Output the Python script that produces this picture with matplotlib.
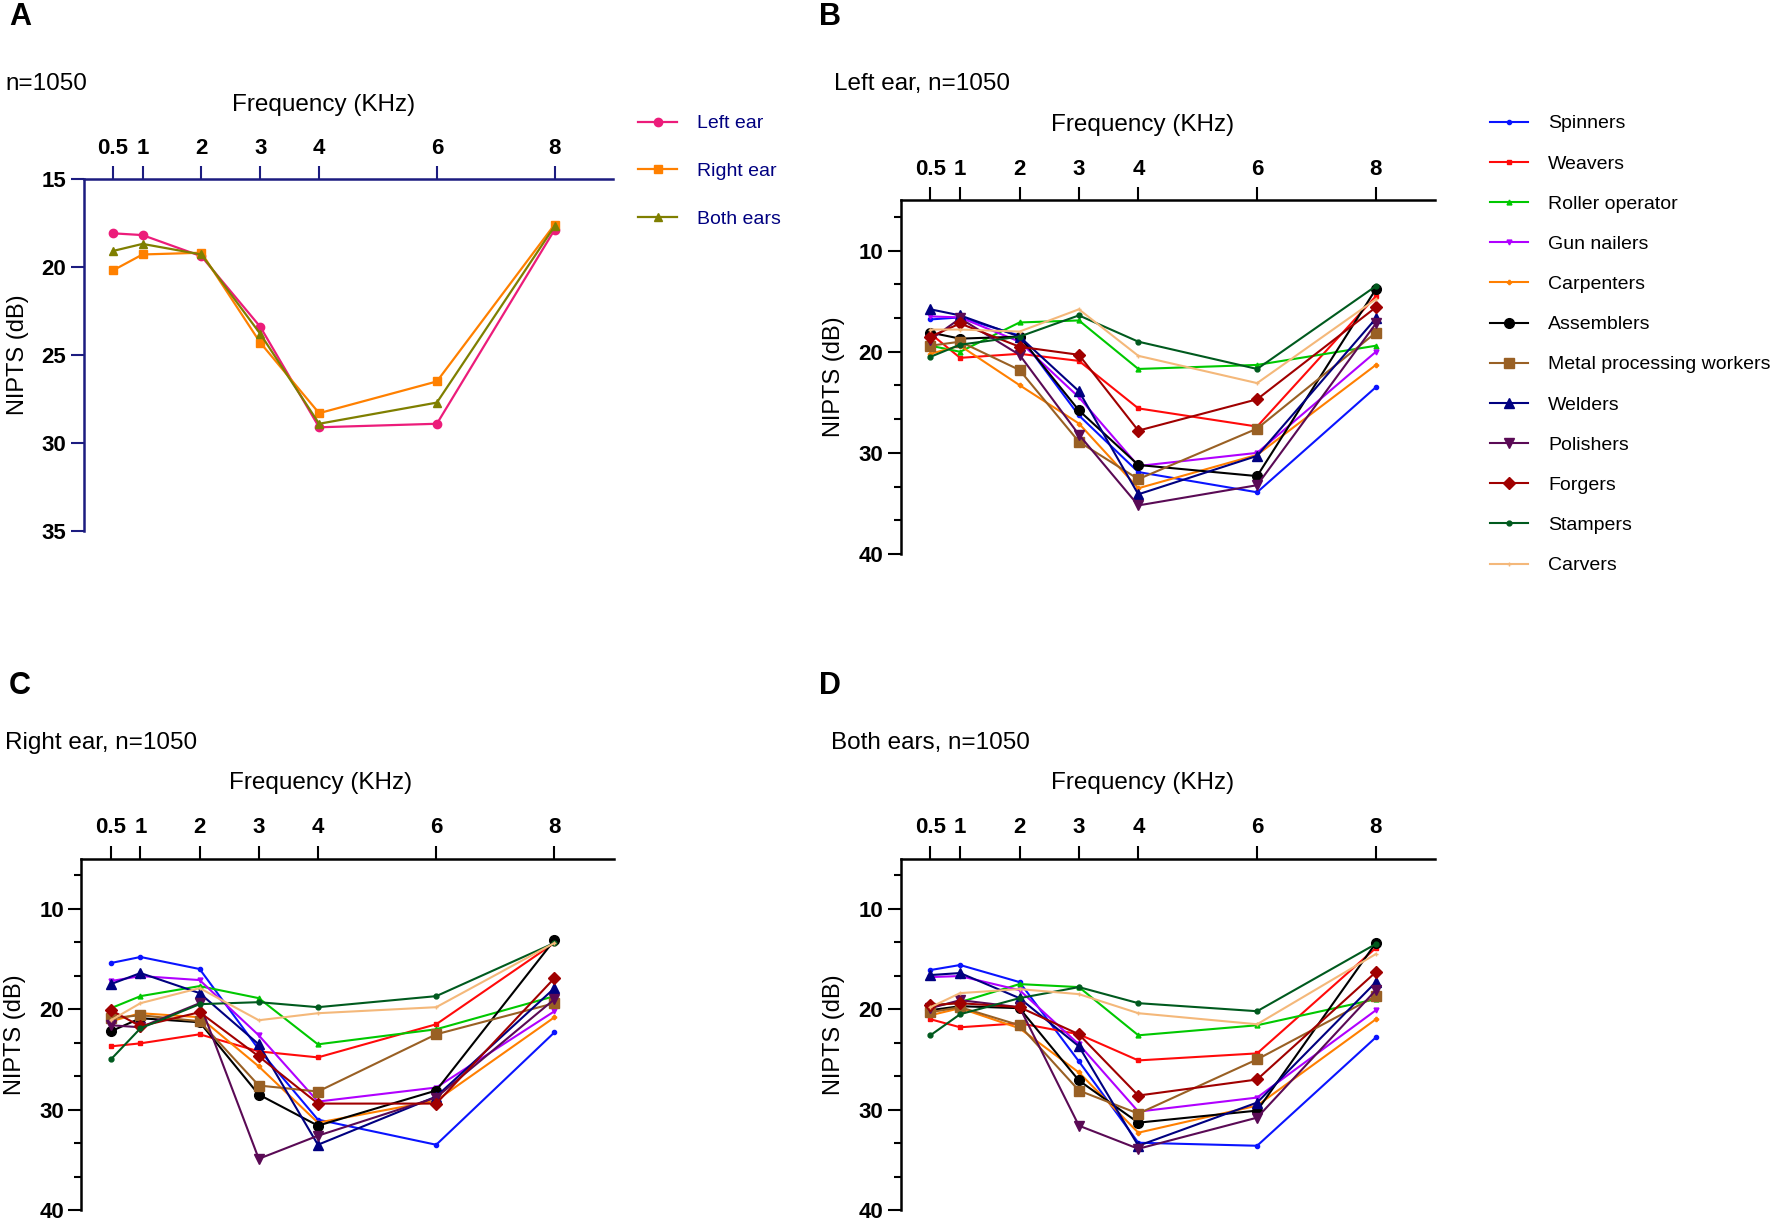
import matplotlib
matplotlib.use("Agg")
import matplotlib.pyplot as plt
from matplotlib.ticker import MultipleLocator, AutoMinorLocator

plt.rcParams['font.family'] = ['Liberation Sans', 'DejaVu Sans']

freq = [0.5, 1, 2, 3, 4, 6, 8]
freq_labels = ['0.5', '1', '2', '3', '4', '6', '8']

# panel A: all workers
left_ear = [18.1, 18.2, 19.4, 23.4, 29.1, 28.9, 17.9]
right_ear = [20.2, 19.3, 19.2, 24.3, 28.3, 26.5, 17.6]
both_ears = [19.1, 18.7, 19.3, 23.8, 28.9, 27.7, 17.7]

groups = ['Spinners', 'Weavers', 'Roller operator', 'Gun nailers', 'Carpenters',
          'Assemblers', 'Metal processing workers', 'Welders', 'Polishers',
          'Forgers', 'Stampers', 'Carvers']

# rows follow the order of groups, columns follow freq
left_by_group = [
    [16.8, 16.6, 18.4, 26.3, 31.9, 33.9, 23.5],
    [18.2, 20.6, 20.2, 20.9, 25.6, 27.4, 14.5],
    [19.4, 20.0, 17.1, 16.9, 21.7, 21.3, 19.4],
    [16.5, 16.6, 19.0, 24.5, 31.3, 30.0, 20.0],
    [20.2, 19.4, 23.3, 27.1, 33.5, 30.2, 21.3],
    [18.1, 18.7, 18.5, 25.8, 31.2, 32.3, 13.8],
    [19.4, 19.0, 21.8, 28.9, 32.6, 27.6, 18.1],
    [15.8, 16.4, 18.5, 23.9, 34.1, 30.3, 16.7],
    [18.8, 16.7, 20.3, 28.2, 35.2, 33.2, 17.2],
    [18.5, 17.2, 19.5, 20.3, 27.8, 24.7, 15.6],
    [20.5, 19.3, 18.5, 16.4, 19.0, 21.7, 13.5],
    [17.8, 17.8, 18.0, 15.8, 20.4, 23.1, 14.8],
]

right_by_group = [
    [15.4, 14.8, 16.0, 24.0, 31.0, 33.5, 22.3],
    [23.7, 23.4, 22.5, 24.2, 24.8, 21.5, 13.4],
    [19.9, 18.7, 17.7, 18.9, 23.5, 22.0, 18.7],
    [17.2, 16.7, 17.1, 22.6, 29.2, 27.8, 20.2],
    [21.2, 20.4, 20.8, 25.7, 31.3, 29.1, 20.8],
    [22.2, 20.9, 21.3, 28.5, 31.6, 28.1, 13.1],
    [20.9, 20.6, 21.2, 27.6, 28.2, 22.5, 19.4],
    [17.5, 16.4, 18.4, 23.5, 33.5, 28.7, 17.9],
    [21.6, 21.8, 19.4, 34.9, 32.6, 28.8, 19.0],
    [20.1, 21.7, 20.3, 24.7, 29.4, 29.4, 16.9],
    [25.0, 21.9, 19.5, 19.3, 19.8, 18.7, 13.4],
    [21.1, 19.4, 17.9, 21.1, 20.4, 19.8, 13.4],
]

both_by_group = [
    [16.1, 15.6, 17.3, 25.2, 33.3, 33.6, 22.8],
    [21.0, 21.8, 21.4, 22.5, 25.1, 24.4, 13.9],
    [19.7, 19.3, 17.5, 17.8, 22.6, 21.6, 19.0],
    [16.8, 16.7, 18.1, 23.5, 30.2, 28.8, 20.1],
    [20.6, 19.9, 21.9, 26.3, 32.3, 29.6, 21.0],
    [20.1, 19.7, 19.9, 27.1, 31.3, 30.1, 13.4],
    [20.3, 19.8, 21.6, 28.1, 30.4, 25.0, 18.7],
    [16.6, 16.4, 18.9, 23.7, 33.6, 29.3, 17.3],
    [19.9, 19.1, 19.8, 31.6, 33.9, 30.8, 18.1],
    [19.6, 19.4, 19.8, 22.5, 28.6, 27.0, 16.3],
    [22.6, 20.5, 18.9, 17.8, 19.4, 20.2, 13.5],
    [19.8, 18.4, 18.0, 18.5, 20.4, 21.5, 14.5],
]

group_colors = ['#0a14ff', '#ff0a0a', '#00c800', '#b000ff', '#ff7f00', '#000000',
                '#996024', '#000080', '#5a0a55', '#a00000', '#005a1e', '#f4b87a']
group_markers = ['o', 's', '^', 'v', 'P', 'o', 's', '^', 'v', 'D', 'o', '+']
group_msizes = [3, 3.5, 3.5, 3.5, 3, 7, 7, 7, 7, 6, 3.5, 2.5]

navy = '#1c1c80'


def setup(ax, ylo, yhi, step, color, minor):
    ax.set_xlim(0, 9)
    ax.set_ylim(yhi, ylo)
    ax.xaxis.tick_top()
    ax.set_xticks(freq)
    ax.set_xticklabels(freq_labels, fontweight='bold')
    ax.yaxis.set_major_locator(MultipleLocator(step))
    for lab in ax.get_yticklabels():
        lab.set_fontweight('bold')
    ax.spines['right'].set_visible(False)
    ax.spines['bottom'].set_visible(False)
    for s in ['top', 'left']:
        ax.spines[s].set_color(color)
        ax.spines[s].set_linewidth(1.8)
    ax.tick_params(axis='x', length=9.5, width=1.5, color=color, pad=5, labelsize=16)
    ax.tick_params(axis='y', which='major', length=9.5, width=1.5, color=color, pad=3, labelsize=16)
    if minor:
        ax.yaxis.set_minor_locator(AutoMinorLocator(3))
        ax.tick_params(axis='y', which='minor', length=5, width=1.5, color=color)
    ax.set_ylabel('NIPTS (dB)', fontsize=17)
    ax.yaxis.set_label_coords(-0.104, 0.5)


fig = plt.figure(figsize=(17.72, 12.22), dpi=100)

axA = fig.add_axes([0.0472, 0.5652, 0.299, 0.2886])
axB = fig.add_axes([0.5083, 0.5467, 0.3017, 0.2895])
axC = fig.add_axes([0.0459, 0.0098, 0.3004, 0.2876])
axD = fig.add_axes([0.5083, 0.0098, 0.3017, 0.2876])

# panel A
axA.plot(freq, left_ear, color='#ec1c7a', marker='o', ms=6, lw=1.6, label='Left ear')
axA.plot(freq, right_ear, color='#ff8000', marker='s', ms=6, lw=1.6, label='Right ear')
axA.plot(freq, both_ears, color='#7f7f00', marker='^', ms=6, lw=1.6, label='Both ears')
setup(axA, 15, 35, 5, navy, False)
legA = axA.legend(loc='upper left', bbox_to_anchor=(0.3603, 0.906), bbox_transform=fig.transFigure,
                  frameon=False, fontsize=14, handlelength=2.0, handletextpad=1.0,
                  labelspacing=1.54, borderpad=0, borderaxespad=0)
for t in legA.get_texts():
    t.set_color('#000080')

# panels B, C, D
for ax, data in [(axB, left_by_group), (axC, right_by_group), (axD, both_by_group)]:
    for name, vals, c, m, s in zip(groups, data, group_colors, group_markers, group_msizes):
        ax.plot(freq, vals, color=c, marker=m, ms=s, lw=1.5, label=name)
    setup(ax, 5, 40, 10, 'black', True)

axB.legend(loc='upper left', bbox_to_anchor=(0.8406, 0.906), bbox_transform=fig.transFigure,
           frameon=False, fontsize=14, handlelength=2.0, handletextpad=1.0,
           labelspacing=1.16, borderpad=0, borderaxespad=0)

# panel letters, titles, axis titles
fig.text(0.005, 0.998, 'A', fontsize=22, fontweight='bold', va='top')
fig.text(0.462, 0.998, 'B', fontsize=22, fontweight='bold', va='top')
fig.text(0.005, 0.451, 'C', fontsize=22, fontweight='bold', va='top')
fig.text(0.462, 0.451, 'D', fontsize=22, fontweight='bold', va='top')

fig.text(0.003, 1 - 74 / 1081, 'n=1050', fontsize=17.5, va='center')
fig.text(738 / 1568, 1 - 74 / 1081, 'Left ear, n=1050', fontsize=17.5, va='center')
fig.text(0.003, 1 - 657 / 1081, 'Right ear, n=1050', fontsize=17.5, va='center')
fig.text(735 / 1568, 1 - 657 / 1081, 'Both ears, n=1050', fontsize=17.5, va='center')

fig.text(286 / 1568, 1 - 93 / 1081, 'Frequency (KHz)', fontsize=17.5, ha='center', va='center')
fig.text(1011 / 1568, 1 - 111 / 1081, 'Frequency (KHz)', fontsize=17.5, ha='center', va='center')
fig.text(284 / 1568, 1 - 693 / 1081, 'Frequency (KHz)', fontsize=17.5, ha='center', va='center')
fig.text(1011 / 1568, 1 - 693 / 1081, 'Frequency (KHz)', fontsize=17.5, ha='center', va='center')

fig.savefig('out.png', dpi=100)
